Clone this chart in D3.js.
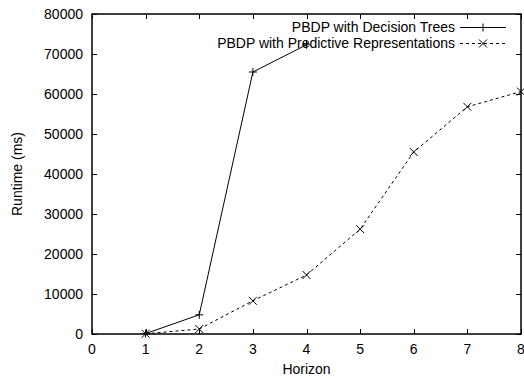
<!DOCTYPE html>
<html>
<head>
<meta charset="utf-8">
<script src="https://cdn.jsdelivr.net/npm/d3@7"></script>
<style>
  body { margin: 0; background: #fff; }
  text { font-family: "Liberation Sans", Arial, sans-serif; font-size: 14px; fill: #000; }
</style>
</head>
<body>
<div id="chart"></div>
<script>
const width = 524, height = 379;
const margin = { top: 14, right: 3, bottom: 45, left: 92 };

// horizon values and runtimes
const horizonTrees = [1, 2, 3, 4];
const runtimeTrees = [100, 4800, 65500, 72300];
const horizonPred = [1, 2, 3, 4, 5, 6, 7, 8];
const runtimePred = [50, 1250, 8300, 14750, 26200, 45500, 56800, 60600];

const xTicks = [0, 1, 2, 3, 4, 5, 6, 7, 8];
const yTicks = [0, 10000, 20000, 30000, 40000, 50000, 60000, 70000, 80000];

const seriesNames = ["PBDP with Decision Trees", "PBDP with Predictive Representations"];

const svg = d3.select("#chart").append("svg")
  .attr("width", width)
  .attr("height", height);

const x = d3.scaleLinear().domain([0, 8]).range([margin.left, width - margin.right]);
const y = d3.scaleLinear().domain([0, 80000]).range([height - margin.bottom, margin.top]);

const tick = 5;

// ticks on all four sides, pointing inward
const g = svg.append("g").attr("stroke", "#000").attr("stroke-width", 1);
xTicks.forEach(t => {
  const px = Math.round(x(t)) + 0.5;
  g.append("line").attr("x1", px).attr("x2", px).attr("y1", y(0)).attr("y2", y(0) - tick);
  g.append("line").attr("x1", px).attr("x2", px).attr("y1", y(80000)).attr("y2", y(80000) + tick);
});
yTicks.forEach(t => {
  const py = Math.round(y(t)) + 0.5;
  g.append("line").attr("x1", x(0)).attr("x2", x(0) + tick).attr("y1", py).attr("y2", py);
  g.append("line").attr("x1", x(8)).attr("x2", x(8) - tick).attr("y1", py).attr("y2", py);
});

svg.selectAll(".xlab").data(xTicks).join("text")
  .attr("x", d => x(d))
  .attr("y", y(0) + 20)
  .attr("text-anchor", "middle")
  .text(d => d);

svg.selectAll(".ylab").data(yTicks).join("text")
  .attr("x", x(0) - 9)
  .attr("y", d => y(d) + 5)
  .attr("text-anchor", "end")
  .text(d => d);

svg.append("text")
  .attr("x", (x(0) + x(8)) / 2)
  .attr("y", 374)
  .attr("text-anchor", "middle")
  .text("Horizon");

svg.append("text")
  .attr("transform", `translate(22,${(y(0) + y(80000)) / 2}) rotate(-90)`)
  .attr("text-anchor", "middle")
  .text("Runtime (ms)");

const line = d3.line().x(d => x(d[0])).y(d => y(d[1]));
const treesData = horizonTrees.map((h, i) => [h, runtimeTrees[i]]);
const predData = horizonPred.map((h, i) => [h, runtimePred[i]]);

function plus(sel, cx, cy) {
  sel.append("path")
    .attr("d", `M${cx - 4},${cy}H${cx + 4}M${cx},${cy - 4}V${cy + 4}`)
    .attr("stroke", "#000").attr("fill", "none");
}
function cross(sel, cx, cy) {
  sel.append("path")
    .attr("d", `M${cx - 4},${cy - 4}L${cx + 4},${cy + 4}M${cx - 4},${cy + 4}L${cx + 4},${cy - 4}`)
    .attr("stroke", "#000").attr("fill", "none");
}

svg.append("path").datum(treesData)
  .attr("d", line).attr("fill", "none").attr("stroke", "#000").attr("stroke-width", 1);
svg.append("path").datum(predData)
  .attr("d", line).attr("fill", "none").attr("stroke", "#000").attr("stroke-width", 1)
  .attr("stroke-dasharray", "3,3");

treesData.forEach(d => plus(svg, x(d[0]), y(d[1])));
predData.forEach(d => cross(svg, x(d[0]), y(d[1])));

// legend
const legX = 455, legY = [27, 43];
seriesNames.forEach((name, i) => {
  svg.append("text")
    .attr("x", legX)
    .attr("y", legY[i] + 5)
    .attr("text-anchor", "end")
    .text(name);
  const ln = svg.append("line")
    .attr("x1", legX + 5).attr("x2", legX + 51)
    .attr("y1", legY[i] + 0.5).attr("y2", legY[i] + 0.5)
    .attr("stroke", "#000");
  if (i === 1) ln.attr("stroke-dasharray", "3,3");
  if (i === 0) plus(svg, legX + 28, legY[i] + 0.5);
  else cross(svg, legX + 28, legY[i] + 0.5);
});

// frame
svg.append("rect")
  .attr("x", x(0)).attr("y", y(80000))
  .attr("width", x(8) - x(0)).attr("height", y(0) - y(80000))
  .attr("fill", "none").attr("stroke", "#000").attr("stroke-width", 1.5);
</script>
</body>
</html>
